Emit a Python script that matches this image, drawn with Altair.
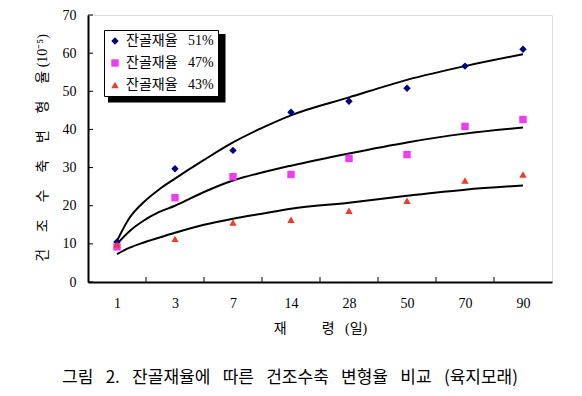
import json
import altair as alt
import pandas as pd

# ---- data ----
days = ["1", "3", "7", "14", "28", "50", "70", "90"]
series = ["잔골재율\u2002 51%", "잔골재율\u2002 47%", "잔골재율\u2002 43%"]
colors = ["#000080", "#F03CF0", "#F03A2E"]
shapes = ["diamond", "square", "triangle-up"]

obs_51 = [10.5, 29.7, 34.5, 44.5, 47.4, 50.8, 56.6, 61.0]
obs_47 = [9.2, 22.1, 27.6, 28.2, 32.4, 33.4, 40.8, 42.6]
obs_43 = [9.8, 11.3, 15.6, 16.3, 18.7, 21.3, 26.6, 28.2]

# smoothed fit curves (position in category units)
fit_pos = [0, 0.22, 0.45, 0.72, 1, 1.5, 2, 2.5, 3, 4, 5, 6, 7]
fit_51 = [10.8, 16.9, 20.8, 24.2, 27.1, 32.0, 36.6, 40.4, 43.7, 48.4, 53.0, 56.6, 59.7]
fit_47 = [10.0, 13.4, 16.0, 18.3, 20.0, 23.6, 26.6, 28.7, 30.5, 33.7, 36.6, 38.9, 40.5]
fit_43 = [7.3, 9.0, 10.3, 11.6, 12.9, 15.0, 16.6, 17.9, 19.2, 20.8, 22.6, 24.2, 25.3]

y_ticks = [0, 10, 20, 30, 40, 50, 60, 70]

x_title = "재\u3000\u3000\u2002령\u2002 (일)"
y_title = "건\u3000\u2009조\u3000\u2009수\u3000\u2009축\u3000\u2009변\u3000\u2009형\u3000\u2009율 (10⁻⁵)"
caption = "그림\u2002 2.\u2002 잔골재율에\u2002 따른\u2002 건조수축\u2002 변형율\u2002 비교\u2002 (육지모래)"

SERIF = "Liberation Serif, Noto Sans CJK KR"
W, H = 464, 267
X0, X1 = -0.5, len(days) - 0.5
Y0, Y1 = 0, 70


def px_to_x(px):  # pixel offset inside plot -> x data units (decorations only)
    return X0 + px / W * (X1 - X0)


def px_to_y(py):
    return Y1 - py / H * (Y1 - Y0)


# ---- tables ----
obs = pd.DataFrame(
    [{"pos": i, "value": v, "series": s}
     for s, vals in zip(series, [obs_51, obs_47, obs_43])
     for i, v in enumerate(vals)]
)
fit = pd.DataFrame(
    [{"pos": p, "value": v, "series": s}
     for s, vals in zip(series, [fit_51, fit_47, fit_43])
     for p, v in zip(fit_pos, vals)]
)
ytick_df = pd.DataFrame({"value": y_ticks, "pos": X0, "pos2": px_to_x(5)})
xtick_df = pd.DataFrame({"pos": [i + 0.5 for i in range(len(days) - 1)],
                         "value": Y0, "value2": px_to_y(H - 5)})
# legend drop shadow: a black box offset behind the legend box
shadow_df = pd.DataFrame({
    "pos": [px_to_x(20)], "pos2": [px_to_x(137.5)],
    "value": [px_to_y(19)], "value2": [px_to_y(87.5)],
})

xscale = alt.Scale(domain=[X0, X1], nice=False, zero=False)
yscale = alt.Scale(domain=[Y0, Y1], nice=False)

x_axis = alt.Axis(
    title=x_title, values=list(range(len(days))),
    labelExpr=json.dumps(days) + "[datum.value]",
    labelAngle=0, ticks=False, tickSize=0, grid=False, labelOverlap=False,
    domainColor="black", domainWidth=2,
    labelFont=SERIF, labelFontSize=14, labelColor="black", labelPadding=14,
    titleFont=SERIF, titleFontSize=14, titleFontWeight="normal",
    titleColor="black", titlePadding=11,
)
y_axis = alt.Axis(
    title=y_title, values=y_ticks, ticks=False, tickSize=0, grid=False,
    labelOverlap=False,
    domainColor="black", domainWidth=2,
    labelFont=SERIF, labelFontSize=14, labelColor="black", labelPadding=12,
    titleFont=SERIF, titleFontSize=14, titleFontWeight="normal",
    titleColor="black", titleX=-46, titleY=H / 2 - 1, titleAngle=270,
    titleAlign="center", titleBaseline="middle",
)


def X():
    return alt.X("pos:Q", scale=xscale, axis=x_axis)


def Y():
    return alt.Y("value:Q", scale=yscale, axis=y_axis)


legend_kw = dict(
    title=None, orient="none", legendX=16, legendY=15,
    fillColor="white", strokeColor="black", padding=4,
    labelFont=SERIF, labelFontSize=14, labelColor="black",
    rowPadding=8, symbolSize=55, labelLimit=300,
)

shadow = alt.Chart(shadow_df).mark_rect(color="black").encode(
    x=X(), x2="pos2:Q", y=Y(), y2="value2:Q"
)

lines = alt.Chart(fit).mark_line(
    color="black", strokeWidth=2, interpolate="monotone"
).encode(x=X(), y=Y(), detail="series:N")

points = alt.Chart(obs).mark_point(filled=True, size=55, opacity=1).encode(
    x=X(), y=Y(),
    color=alt.Color("series:N", sort=series,
                    scale=alt.Scale(domain=series, range=colors),
                    legend=alt.Legend(**legend_kw)),
    shape=alt.Shape("series:N", sort=series,
                    scale=alt.Scale(domain=series, range=shapes),
                    legend=alt.Legend(**legend_kw)),
)

ytick_marks = alt.Chart(ytick_df).mark_rule(color="black", strokeWidth=1).encode(
    y=Y(), x=X(), x2="pos2:Q"
)
xtick_marks = alt.Chart(xtick_df).mark_rule(color="black", strokeWidth=1).encode(
    x=X(), y=Y(), y2="value2:Q"
)

chart = alt.layer(
    shadow, lines, ytick_marks, xtick_marks, points
).properties(
    width=W, height=H,
    autosize=alt.AutoSizeParams(type="none"),
    padding={"left": 80, "top": 7, "right": 22, "bottom": 105},
    title=alt.TitleParams(
        text=caption, orient="bottom", anchor="middle",
        font="Noto Sans CJK KR", fontSize=17, fontWeight="normal",
        color="black", offset=35, dx=-30,
    ),
).configure_view(stroke="black", strokeWidth=1.2).configure(background="white")

chart.save("out.html", embed_options={"renderer": "svg", "actions": False})
